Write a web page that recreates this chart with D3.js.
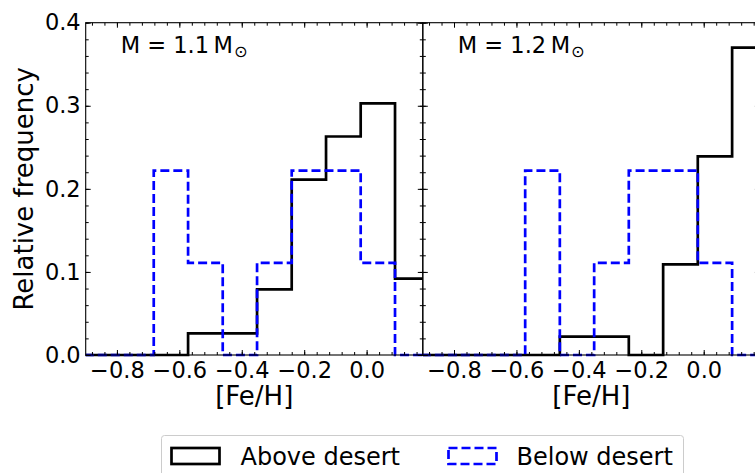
<!DOCTYPE html>
<html>
<head>
<meta charset="utf-8">
<script src="https://cdn.jsdelivr.net/npm/d3@7"></script>
<style>
  html, body { margin: 0; padding: 0; background: #fff; }
  svg { display: block; font-family: "DejaVu Sans", sans-serif; }
</style>
</head>
<body>
<svg id="chart" width="755" height="473"></svg>
<script>
// ---- data ----
const binEdges = [-0.903, -0.792, -0.682, -0.572, -0.461, -0.351, -0.240, -0.130, -0.019, 0.091, 0.201];
const panelMasses = ["1.1", "1.2"];
const seriesNames = ["Above desert", "Below desert"];
const aboveM11 = [0, 0, 0, 0.026, 0.026, 0.079, 0.211, 0.263, 0.303, 0.092];
const belowM11 = [0, 0, 0.222, 0.111, 0, 0.111, 0.222, 0.222, 0.111, 0];
const aboveM12 = [0, 0, 0, 0, 0.022, 0.022, 0, 0.109, 0.239, 0.370];
const belowM12 = [0, 0, 0, 0.222, 0, 0.111, 0.222, 0.222, 0.111, 0];
const xMajorTicks = [-0.8, -0.6, -0.4, -0.2, 0.0];
const yMajorTicks = [0.0, 0.1, 0.2, 0.3, 0.4];
const xLabel = "[Fe/H]";
const yLabel = "Relative frequency";

const panels = [
  { mass: panelMasses[0], above: aboveM11, below: belowM11 },
  { mass: panelMasses[1], above: aboveM12, below: belowM12 }
];

// ---- layout ----
const svg = d3.select("#chart");
const FS_TICK = 22.5, FS_LABEL = 26, FS_LEG = 24, FS_ANN = 22.5;
const plotTop = 22.7, plotBottom = 355;
const panelW = 337.1;
const left0 = 85.7;
const xDomain = [-0.9, 0.18];
const y = d3.scaleLinear().domain([0, 0.4]).range([plotBottom, plotTop]);
const xMinor = d3.range(-0.88, 0.181, 0.04);
const yMinor = d3.range(0, 0.4001, 0.02);
const blueColor = "#0000ff";
const lw = 2.7;
const dash = "9,4";
const MAJ = 5, MIN = 3;

function stepPoints(vals) {
  const pts = [[binEdges[0], 0]];
  vals.forEach((v, i) => { pts.push([binEdges[i], v]); pts.push([binEdges[i + 1], v]); });
  pts.push([binEdges[binEdges.length - 1], 0]);
  return pts;
}

panels.forEach((p, idx) => {
  const x0 = left0 + idx * panelW;
  const x = d3.scaleLinear().domain(xDomain).range([x0, x0 + panelW]);
  const g = svg.append("g");

  const clipId = "clip" + idx;
  svg.append("clipPath").attr("id", clipId)
    .append("rect").attr("x", x0).attr("y", plotTop - 2).attr("width", panelW).attr("height", plotBottom - plotTop + 4);

  const line = d3.line().x(d => x(d[0])).y(d => y(d[1]));
  const hg = g.append("g").attr("clip-path", `url(#${clipId})`);
  hg.append("path").attr("d", line(stepPoints(p.above)))
    .attr("fill", "none").attr("stroke", "#000").attr("stroke-width", lw).attr("stroke-linejoin", "miter");
  hg.append("path").attr("d", line(stepPoints(p.below)))
    .attr("fill", "none").attr("stroke", blueColor).attr("stroke-width", lw)
    .attr("stroke-dasharray", dash).attr("stroke-linejoin", "miter");

  const fmt = d3.format(".1f");
  g.append("g").attr("transform", `translate(0,${plotBottom})`)
    .call(d3.axisBottom(x).tickValues(xMajorTicks).tickFormat(fmt).tickSizeInner(-MAJ).tickSizeOuter(0).tickPadding(7));
  g.append("g").attr("transform", `translate(0,${plotBottom})`)
    .call(d3.axisBottom(x).tickValues(xMinor).tickFormat("").tickSizeInner(-MIN).tickSizeOuter(0));
  g.append("g").attr("transform", `translate(0,${plotTop})`)
    .call(d3.axisTop(x).tickValues(xMajorTicks).tickFormat("").tickSizeInner(-MAJ).tickSizeOuter(0));
  g.append("g").attr("transform", `translate(0,${plotTop})`)
    .call(d3.axisTop(x).tickValues(xMinor).tickFormat("").tickSizeInner(-MIN).tickSizeOuter(0));

  g.append("g").attr("transform", `translate(${x0},0)`)
    .call(d3.axisLeft(y).tickValues(yMajorTicks).tickFormat(idx === 0 ? fmt : "").tickSizeInner(-MAJ).tickSizeOuter(0).tickPadding(5));
  g.append("g").attr("transform", `translate(${x0},0)`)
    .call(d3.axisLeft(y).tickValues(yMinor).tickFormat("").tickSizeInner(-MIN).tickSizeOuter(0));
  g.append("g").attr("transform", `translate(${x0 + panelW},0)`)
    .call(d3.axisRight(y).tickValues(yMajorTicks).tickFormat("").tickSizeInner(-MAJ).tickSizeOuter(0));
  g.append("g").attr("transform", `translate(${x0 + panelW},0)`)
    .call(d3.axisRight(y).tickValues(yMinor).tickFormat("").tickSizeInner(-MIN).tickSizeOuter(0));

  g.selectAll(".domain").remove();
  g.selectAll(".tick line").attr("stroke", "#000").attr("stroke-width", 1);
  g.selectAll(".tick text").attr("font-family", "DejaVu Sans").attr("font-size", FS_TICK).attr("fill", "#000");

  g.append("rect").attr("x", x0).attr("y", plotTop).attr("width", panelW).attr("height", plotBottom - plotTop)
    .attr("fill", "none").attr("stroke", "#000").attr("stroke-width", 1.1);

  g.append("text").attr("x", x0 + panelW / 2).attr("y", 405).attr("text-anchor", "middle")
    .attr("font-size", FS_LABEL).text(xLabel);

  const t = g.append("text").attr("x", x0 + 35).attr("y", 53).attr("font-size", FS_ANN);
  t.append("tspan").text("M = " + p.mass + "\u2009M");
  t.append("tspan").attr("font-size", FS_ANN * 0.72).attr("dy", 4).attr("dx", 1).text("\u2299");
});

svg.append("text").attr("transform", `translate(33,${(plotTop + plotBottom) / 2}) rotate(-90)`)
  .attr("text-anchor", "middle").attr("font-size", FS_LABEL).text(yLabel);

const lg = svg.append("g");
lg.append("rect").attr("x", 161.5).attr("y", 435.5).attr("width", 522).attr("height", 60).attr("rx", 3)
  .attr("fill", "#fff").attr("stroke", "#cccccc").attr("stroke-width", 1);
const legendItems = [
  { name: seriesNames[0], color: "#000", dash: null, hx: 171.5, tx: 240.5 },
  { name: seriesNames[1], color: blueColor, dash: dash, hx: 448.5, tx: 516.5 }
];
legendItems.forEach(it => {
  lg.append("rect").attr("x", it.hx).attr("y", 448).attr("width", 48).attr("height", 16)
    .attr("fill", "none").attr("stroke", it.color).attr("stroke-width", lw)
    .attr("stroke-dasharray", it.dash);
  lg.append("text").attr("x", it.tx).attr("y", 465).attr("font-size", FS_LEG).text(it.name);
});
</script>
</body>
</html>
